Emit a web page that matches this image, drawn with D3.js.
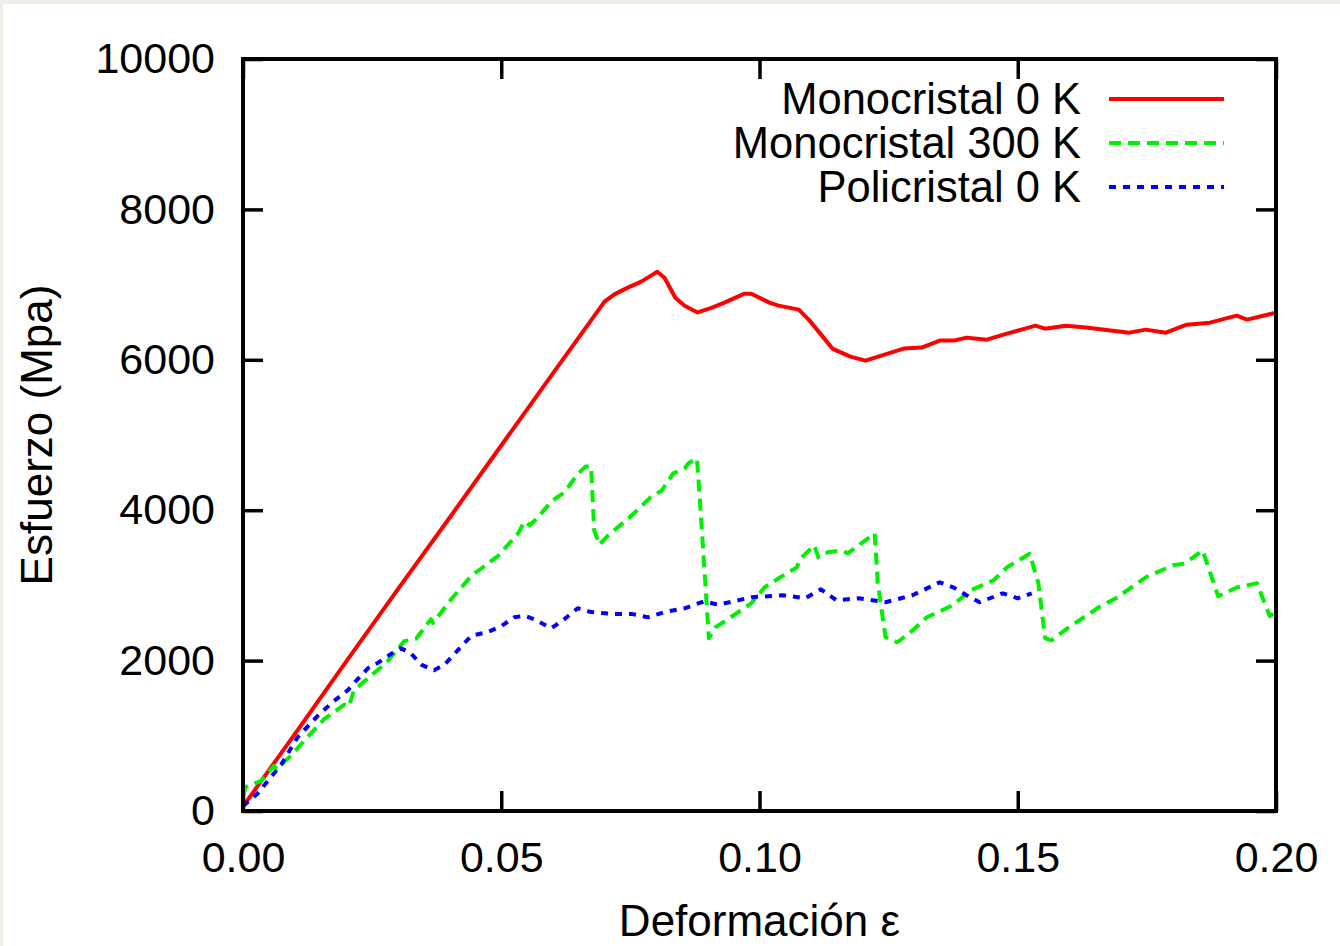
<!DOCTYPE html>
<html lang="es">
<head>
    <meta charset="utf-8">
    <title>Esfuerzo vs deformación</title>
    <script src="https://cdn.jsdelivr.net/npm/d3@7/dist/d3.min.js"></script>
    <style>
        body { margin: 0; background: #efefe8; }
        svg { display: block; }
        .axis text { font-family: "Liberation Sans", Arial, sans-serif; font-size: 43px; fill: #000; }
        .axis path { display: none; }
        .axis line { stroke: #000; stroke-width: 3.5; }
        .label { font-family: "Liberation Sans", Arial, sans-serif; font-size: 44px; fill: #000; }
        .legend { font-family: "Liberation Sans", Arial, sans-serif; font-size: 43.5px; fill: #000; }
    </style>
</head>
<body>
    <div id="chart"></div>

    <script>
        // valeurs : [deformación, esfuerzo (MPa)]
        const mono0K = [
            [0, 60], [0.01, 1020], [0.02, 1990], [0.03, 2950], [0.04, 3900], [0.05, 4860],
            [0.06, 5820], [0.07, 6773], [0.0719, 6870], [0.0745, 6960], [0.0771, 7039],
            [0.079, 7120], [0.0802, 7171], [0.0816, 7092], [0.0837, 6826], [0.0855, 6720],
            [0.088, 6630], [0.0907, 6690], [0.0932, 6760], [0.0971, 6879], [0.0984, 6879],
            [0.1019, 6760], [0.1037, 6720], [0.1076, 6667], [0.1097, 6521], [0.1124, 6295],
            [0.1141, 6149], [0.1176, 6043], [0.1205, 5989], [0.1236, 6056], [0.1279, 6149],
            [0.1314, 6162], [0.1349, 6255], [0.1376, 6255], [0.1401, 6295], [0.144, 6268],
            [0.1479, 6348], [0.1514, 6414], [0.1534, 6454], [0.1553, 6414], [0.1593, 6454],
            [0.1632, 6428], [0.1716, 6361], [0.1748, 6401], [0.1787, 6361], [0.1827, 6467],
            [0.1872, 6494], [0.1924, 6587], [0.1944, 6534], [0.2, 6627]
        ];

        const mono300K = [
            [0, 200], [0.0005, 320], [0.0035, 400], [0.006, 600], [0.0065, 560], [0.0093, 737],
            [0.0125, 983], [0.0157, 1222], [0.0196, 1414], [0.0205, 1390], [0.0215, 1607],
            [0.0248, 1800], [0.028, 1992], [0.0312, 2258], [0.0335, 2290], [0.0364, 2550],
            [0.0368, 2500], [0.0403, 2815], [0.0442, 3127], [0.0467, 3254], [0.0494, 3393],
            [0.0513, 3540], [0.0532, 3684], [0.0545, 3851], [0.0555, 3800], [0.0571, 3904],
            [0.0597, 4117], [0.0622, 4236], [0.0648, 4481], [0.0663, 4580], [0.0674, 4580],
            [0.068, 3732], [0.069, 3540], [0.0707, 3665], [0.0742, 3865], [0.0767, 4024],
            [0.0789, 4170], [0.0811, 4263], [0.0833, 4489], [0.0855, 4555], [0.0862, 4622],
            [0.0879, 4688], [0.0885, 4090], [0.0902, 2297], [0.0915, 2443], [0.095, 2603],
            [0.0984, 2762], [0.101, 2975], [0.1037, 3094], [0.1072, 3240], [0.108, 3360],
            [0.1106, 3532], [0.1114, 3373], [0.1132, 3440], [0.1158, 3466], [0.1171, 3426],
            [0.1223, 3692], [0.1229, 3028], [0.1244, 2311], [0.1267, 2244], [0.1297, 2404],
            [0.1324, 2576], [0.1374, 2736], [0.1409, 2935], [0.1453, 3068], [0.1479, 3240],
            [0.1523, 3420], [0.154, 3028], [0.1553, 2300], [0.1565, 2270], [0.1599, 2443],
            [0.1657, 2709], [0.169, 2829], [0.1748, 3108], [0.18, 3267], [0.1823, 3290],
            [0.1858, 3466], [0.1888, 2855], [0.1925, 2975], [0.1963, 3028], [0.1988, 2590],
            [0.2, 2656]
        ];

        const poli0K = [
            [0, 66], [0.0028, 231], [0.0074, 618], [0.0106, 983], [0.0145, 1268], [0.0176, 1461],
            [0.0203, 1607], [0.0222, 1753], [0.0242, 1899], [0.0261, 1969], [0.0287, 2090],
            [0.0306, 2165], [0.0326, 2090], [0.0345, 1946], [0.037, 1872], [0.039, 1946],
            [0.0416, 2138], [0.0442, 2330], [0.0474, 2380], [0.05, 2457], [0.0525, 2576],
            [0.0545, 2596], [0.0564, 2550], [0.0597, 2430], [0.0622, 2550], [0.0648, 2696],
            [0.0674, 2645], [0.0713, 2621], [0.0752, 2621], [0.0784, 2576], [0.0816, 2645],
            [0.0855, 2696], [0.0893, 2789], [0.092, 2742], [0.0984, 2842], [0.1045, 2869],
            [0.1089, 2829], [0.1119, 2948], [0.1149, 2802], [0.1193, 2829], [0.1244, 2776],
            [0.1296, 2869], [0.1349, 3041], [0.1375, 2975], [0.1401, 2869], [0.1426, 2776],
            [0.1471, 2895], [0.15, 2829], [0.1527, 2895]
        ];

        const seriesNames = ["Monocristal 0 K", "Monocristal 300 K", "Policristal 0 K"];
        const xTicks = [0, 0.05, 0.1, 0.15, 0.2];
        const yTicks = [0, 2000, 4000, 6000, 8000, 10000];

        const width = 1340, height = 946;
        const margin = { left: 243, right: 64, top: 59, bottom: 135 };

        const svg = d3.select("#chart").append("svg")
            .attr("width", width)
            .attr("height", height);

        // fond blanc (petit liseré beige en haut et à gauche)
        svg.append("rect")
            .attr("x", 3).attr("y", 4)
            .attr("width", width - 3).attr("height", height - 4)
            .attr("fill", "#fff");

        const x = d3.scaleLinear()
            .domain([0, 0.2])
            .range([margin.left, width - margin.right]);

        const y = d3.scaleLinear()
            .domain([0, 10000])
            .range([height - margin.bottom, margin.top]);

        const tick = 20;

        // axes avec graduations vers l'intérieur, comme gnuplot
        svg.append("g").attr("class", "axis")
            .attr("transform", `translate(0,${y(0)})`)
            .call(d3.axisBottom(x).tickValues(xTicks).tickFormat(d3.format(".2f"))
                .tickSizeInner(-tick).tickSizeOuter(0).tickPadding(30));

        svg.append("g").attr("class", "axis")
            .attr("transform", `translate(0,${y(10000)})`)
            .call(d3.axisTop(x).tickValues(xTicks).tickFormat("")
                .tickSizeInner(-tick).tickSizeOuter(0));

        svg.append("g").attr("class", "axis")
            .attr("transform", `translate(${x(0)},0)`)
            .call(d3.axisLeft(y).tickValues(yTicks).tickFormat(d3.format("d"))
                .tickSizeInner(-tick).tickSizeOuter(0).tickPadding(28));

        svg.append("g").attr("class", "axis")
            .attr("transform", `translate(${x(0.2)},0)`)
            .call(d3.axisRight(y).tickValues(yTicks).tickFormat("")
                .tickSizeInner(-tick).tickSizeOuter(0));

        const line = d3.line()
            .x(d => x(d[0]))
            .y(d => y(d[1]));

        const styles = [
            { data: mono0K, color: "#ff0000", dash: null },
            { data: mono300K, color: "#00f000", dash: "12,7" },
            { data: poli0K, color: "#0000ff", dash: "7,7" }
        ];

        const plot = svg.append("g");

        styles.forEach(s => {
            plot.append("path")
                .datum(s.data)
                .attr("fill", "none")
                .attr("stroke", s.color)
                .attr("stroke-width", 4)
                .attr("stroke-linejoin", "round")
                .attr("stroke-dasharray", s.dash)
                .attr("d", line);
        });

        // cadre
        svg.append("rect")
            .attr("x", x(0)).attr("y", y(10000))
            .attr("width", x(0.2) - x(0)).attr("height", y(0) - y(10000))
            .attr("fill", "none")
            .attr("stroke", "#000")
            .attr("stroke-width", 4);

        // légende
        const legend = svg.append("g");
        seriesNames.forEach((name, i) => {
            const ly = 99 + i * 44;
            legend.append("text")
                .attr("class", "legend")
                .attr("x", 1081).attr("y", ly + 15)
                .attr("text-anchor", "end")
                .text(name);
            legend.append("line")
                .attr("x1", 1109).attr("x2", 1224)
                .attr("y1", ly).attr("y2", ly)
                .attr("stroke", styles[i].color)
                .attr("stroke-width", 4)
                .attr("stroke-dasharray", styles[i].dash);
        });

        // titres des axes
        svg.append("text")
            .attr("class", "label")
            .attr("x", (x(0) + x(0.2)) / 2)
            .attr("y", 936)
            .attr("text-anchor", "middle")
            .text("Deformación ε");

        svg.append("text")
            .attr("class", "label")
            .attr("transform", `translate(52,${(y(0) + y(10000)) / 2}) rotate(-90)`)
            .attr("text-anchor", "middle")
            .text("Esfuerzo (Mpa)");
    </script>
</body>
</html>
